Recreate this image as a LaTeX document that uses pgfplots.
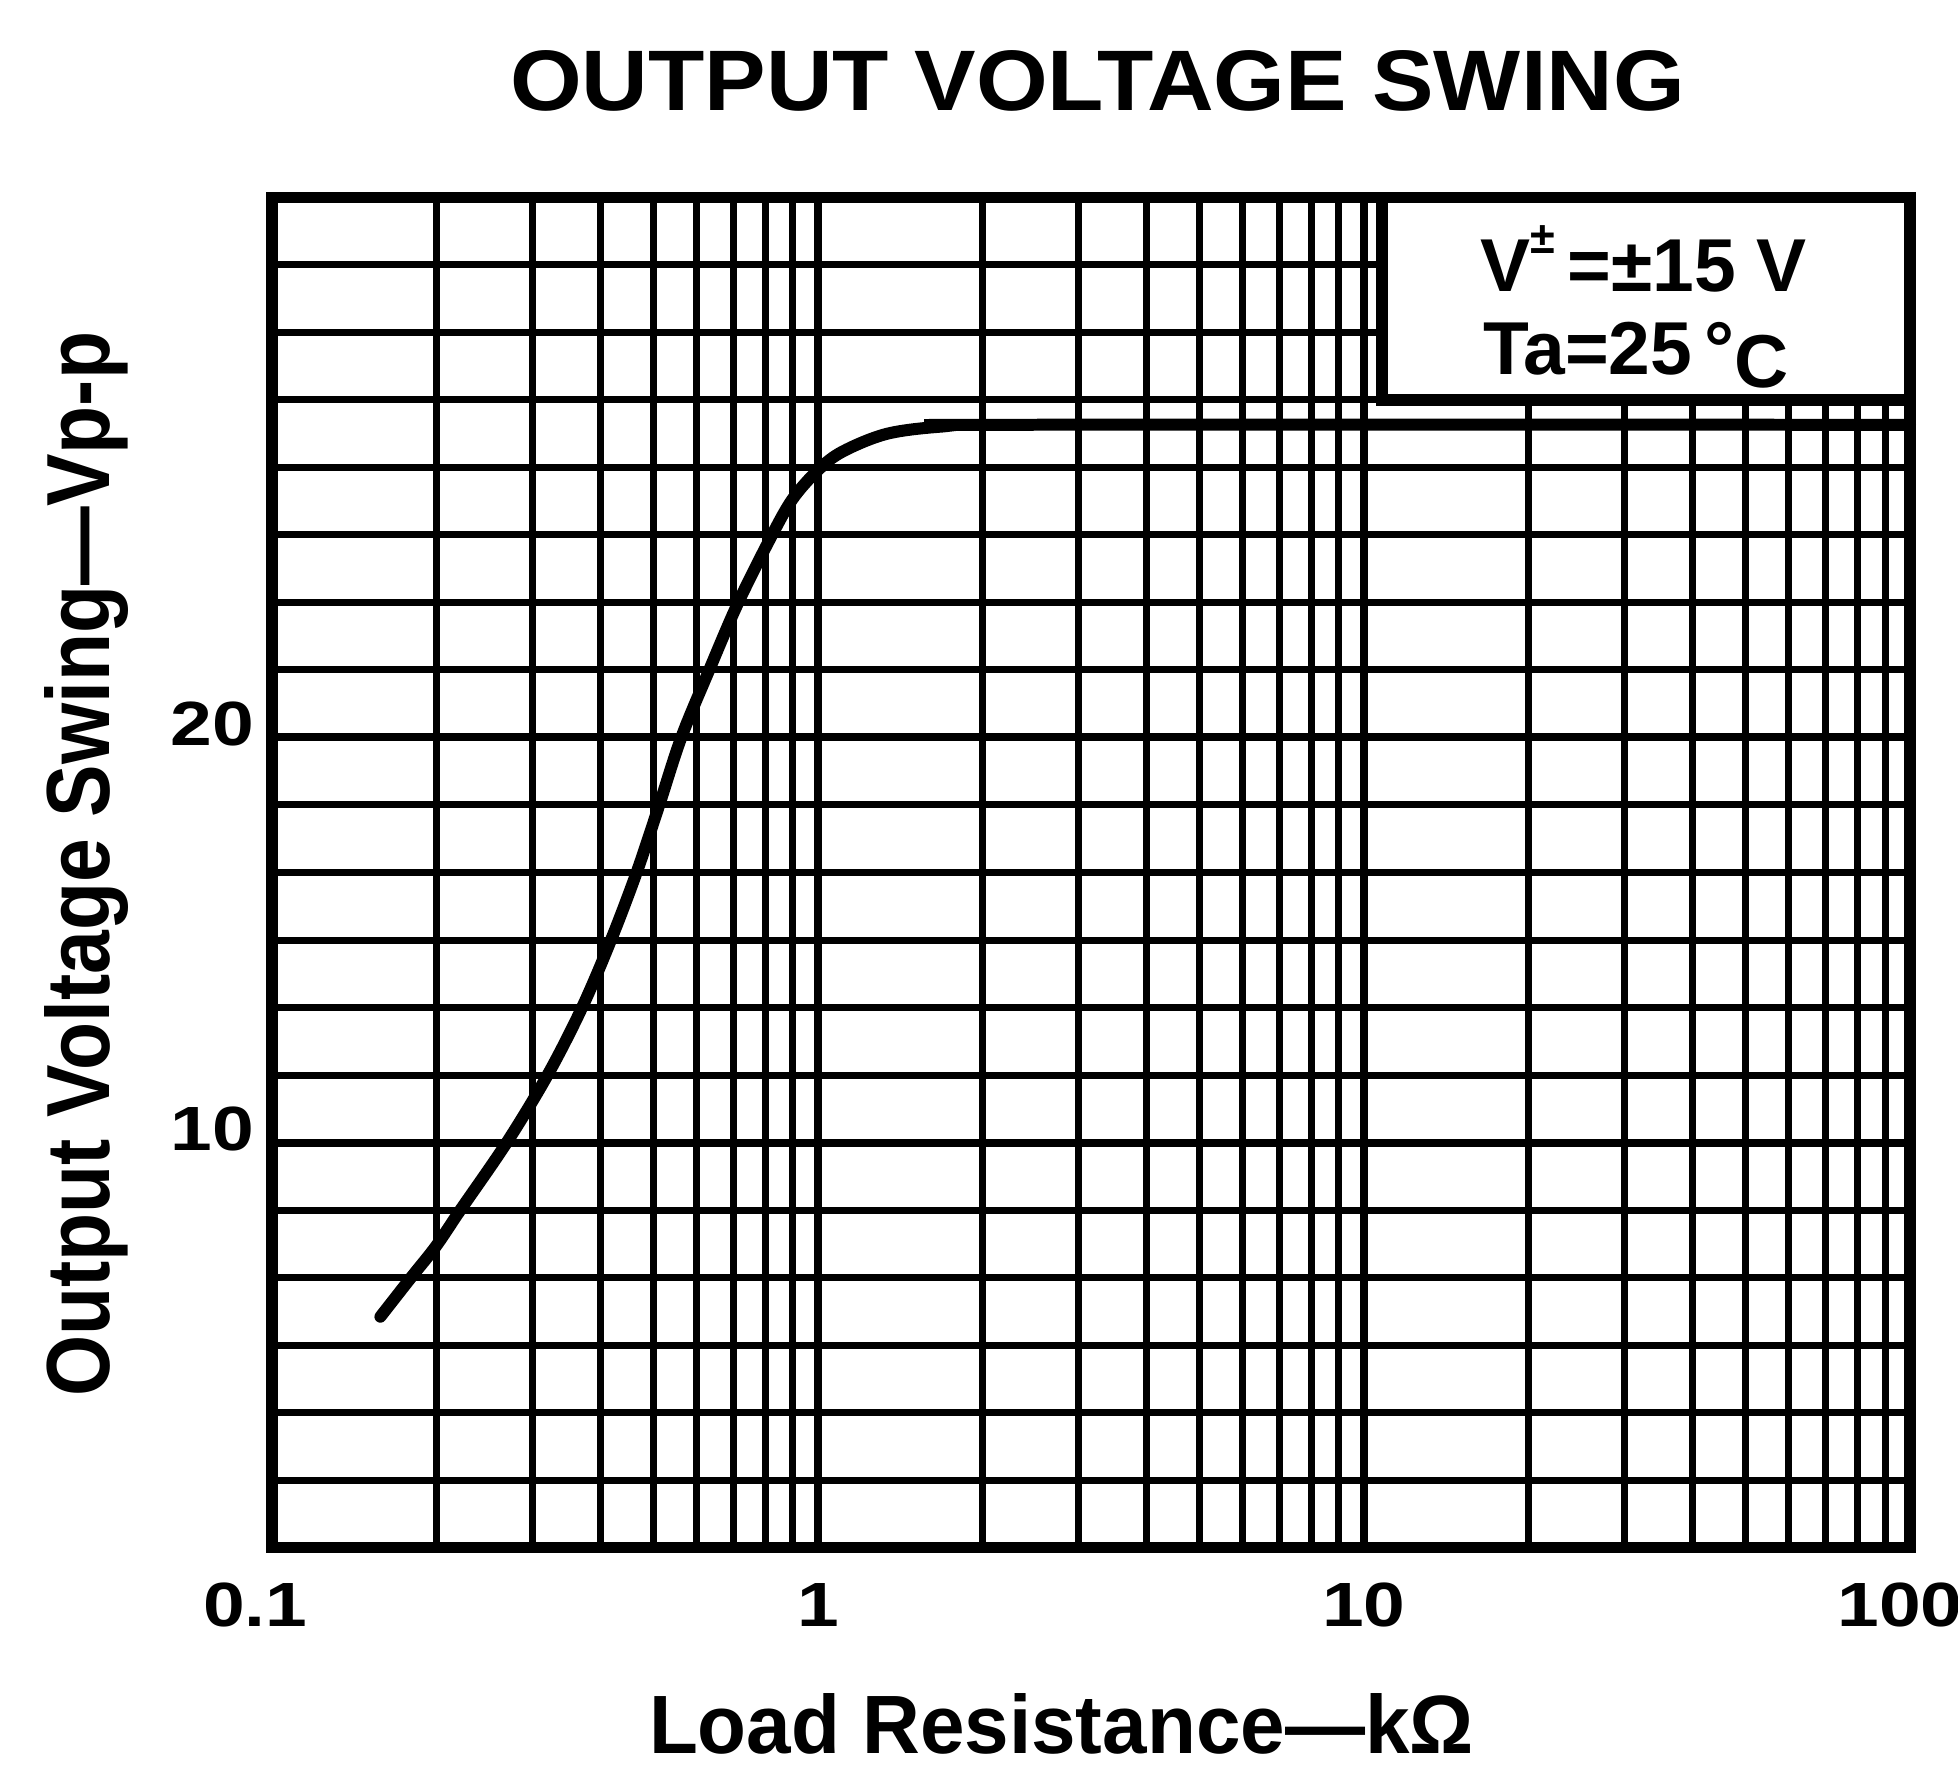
\documentclass[border=0pt]{standalone}
\usepackage{pgfplots}
\pgfplotsset{compat=1.18}
\usepackage{fontspec}
\setmainfont{Liberation Sans}
\usetikzlibrary{calc}
\pgfplotstableread{
x y
0.158 5.7
0.1799 6.67
0.2 7.45
0.2213 8.33
0.2692 10
0.3199 11.67
0.3698 13.33
0.4178 15
0.4656 16.67
0.512 18.33
0.562 20
0.6324 21.67
0.7145 23.33
0.8241 25
0.9 25.9
1.0 26.6
1.11 27.06
1.34 27.5
1.7 27.68
2.2 27.72
100 27.72
}\curvedata
\newcommand{\tl}[1]{\scalebox{1.2}[1]{#1}}
\begin{document}
\begin{tikzpicture}
\begin{axis}[
  scale only axis, width=327.7pt, height=270.1pt,
  xmode=log, log basis x=10,
  xmin=0.1, xmax=100, ymin=0, ymax=33.3333,
  xtick={0.1,1,10,100},
  xticklabels={{\tl{0.1}\rule{6.6pt}{0pt}},{\tl{1}},{\tl{10}},{\tl{100}\rule{4pt}{0pt}}},
  minor xtick={0.2,0.3,0.4,0.5,0.6,0.7,0.8,0.9,2,3,4,5,6,7,8,9,20,30,40,50,60,70,80,90},
  ytick={10,20}, yticklabels={{\tl{10}},{\tl{20}}},
  minor ytick={1.6667,3.3333,5,6.6667,8.3333,11.6667,13.3333,15,16.6667,18.3333,21.6667,23.3333,25,26.6667,28.3333,30,31.6667},
  xmajorgrids, xminorgrids, ymajorgrids, yminorgrids,
  major grid style={line width=1.6pt, black},
  minor grid style={line width=1.4pt, black},
  axis line style={line width=2.3pt},
  major tick length=0pt, minor tick length=0pt,
  tick label style={font=\bfseries\fontsize{12.5}{14}\selectfont},
  xticklabel style={yshift=-3.6pt},
  yticklabel style={yshift=2.7pt},
  clip=false,
]
\addplot[black, line width=2.4pt, line cap=round, smooth, tension=0.55] table[x=x,y=y] {\curvedata};
\draw[line width=2.3pt, fill=white] (axis cs:10.8,28.3333) rectangle (axis cs:100,33.3333);
\node[anchor=base, font=\bfseries\fontsize{15}{16}\selectfont] at (axis cs:32.5,31.02) {V\raisebox{0.95ex}{\fontsize{9}{9}\selectfont ±}\,=±15 V};
\node[anchor=base, font=\bfseries\fontsize{15}{16}\selectfont] at (axis cs:31.5,28.95) {Ta=25\,°\raisebox{-2.5pt}{C}};
\node[anchor=base] at (rel axis cs:0.504,1) [yshift=17.4pt] {\resizebox{235pt}{12pt}{\bfseries OUTPUT VOLTAGE SWING}};
\node[anchor=base] at (rel axis cs:0.482,0) [yshift=-41.2pt] {\resizebox{165pt}{12pt}{\bfseries Load Resistance—kΩ}};
\node[xshift=-32.4pt, rotate=90, anchor=base] at (rel axis cs:0,0.506) {\resizebox{213pt}{13pt}{\bfseries Output Voltage Swing—Vp-p}};
\end{axis}
\pgfresetboundingbox
\path ($(current axis.south west)+(-54.4pt,-46pt)$) rectangle ($(current axis.north east)+(9.6pt,39.5pt)$);
\end{tikzpicture}
\end{document}
